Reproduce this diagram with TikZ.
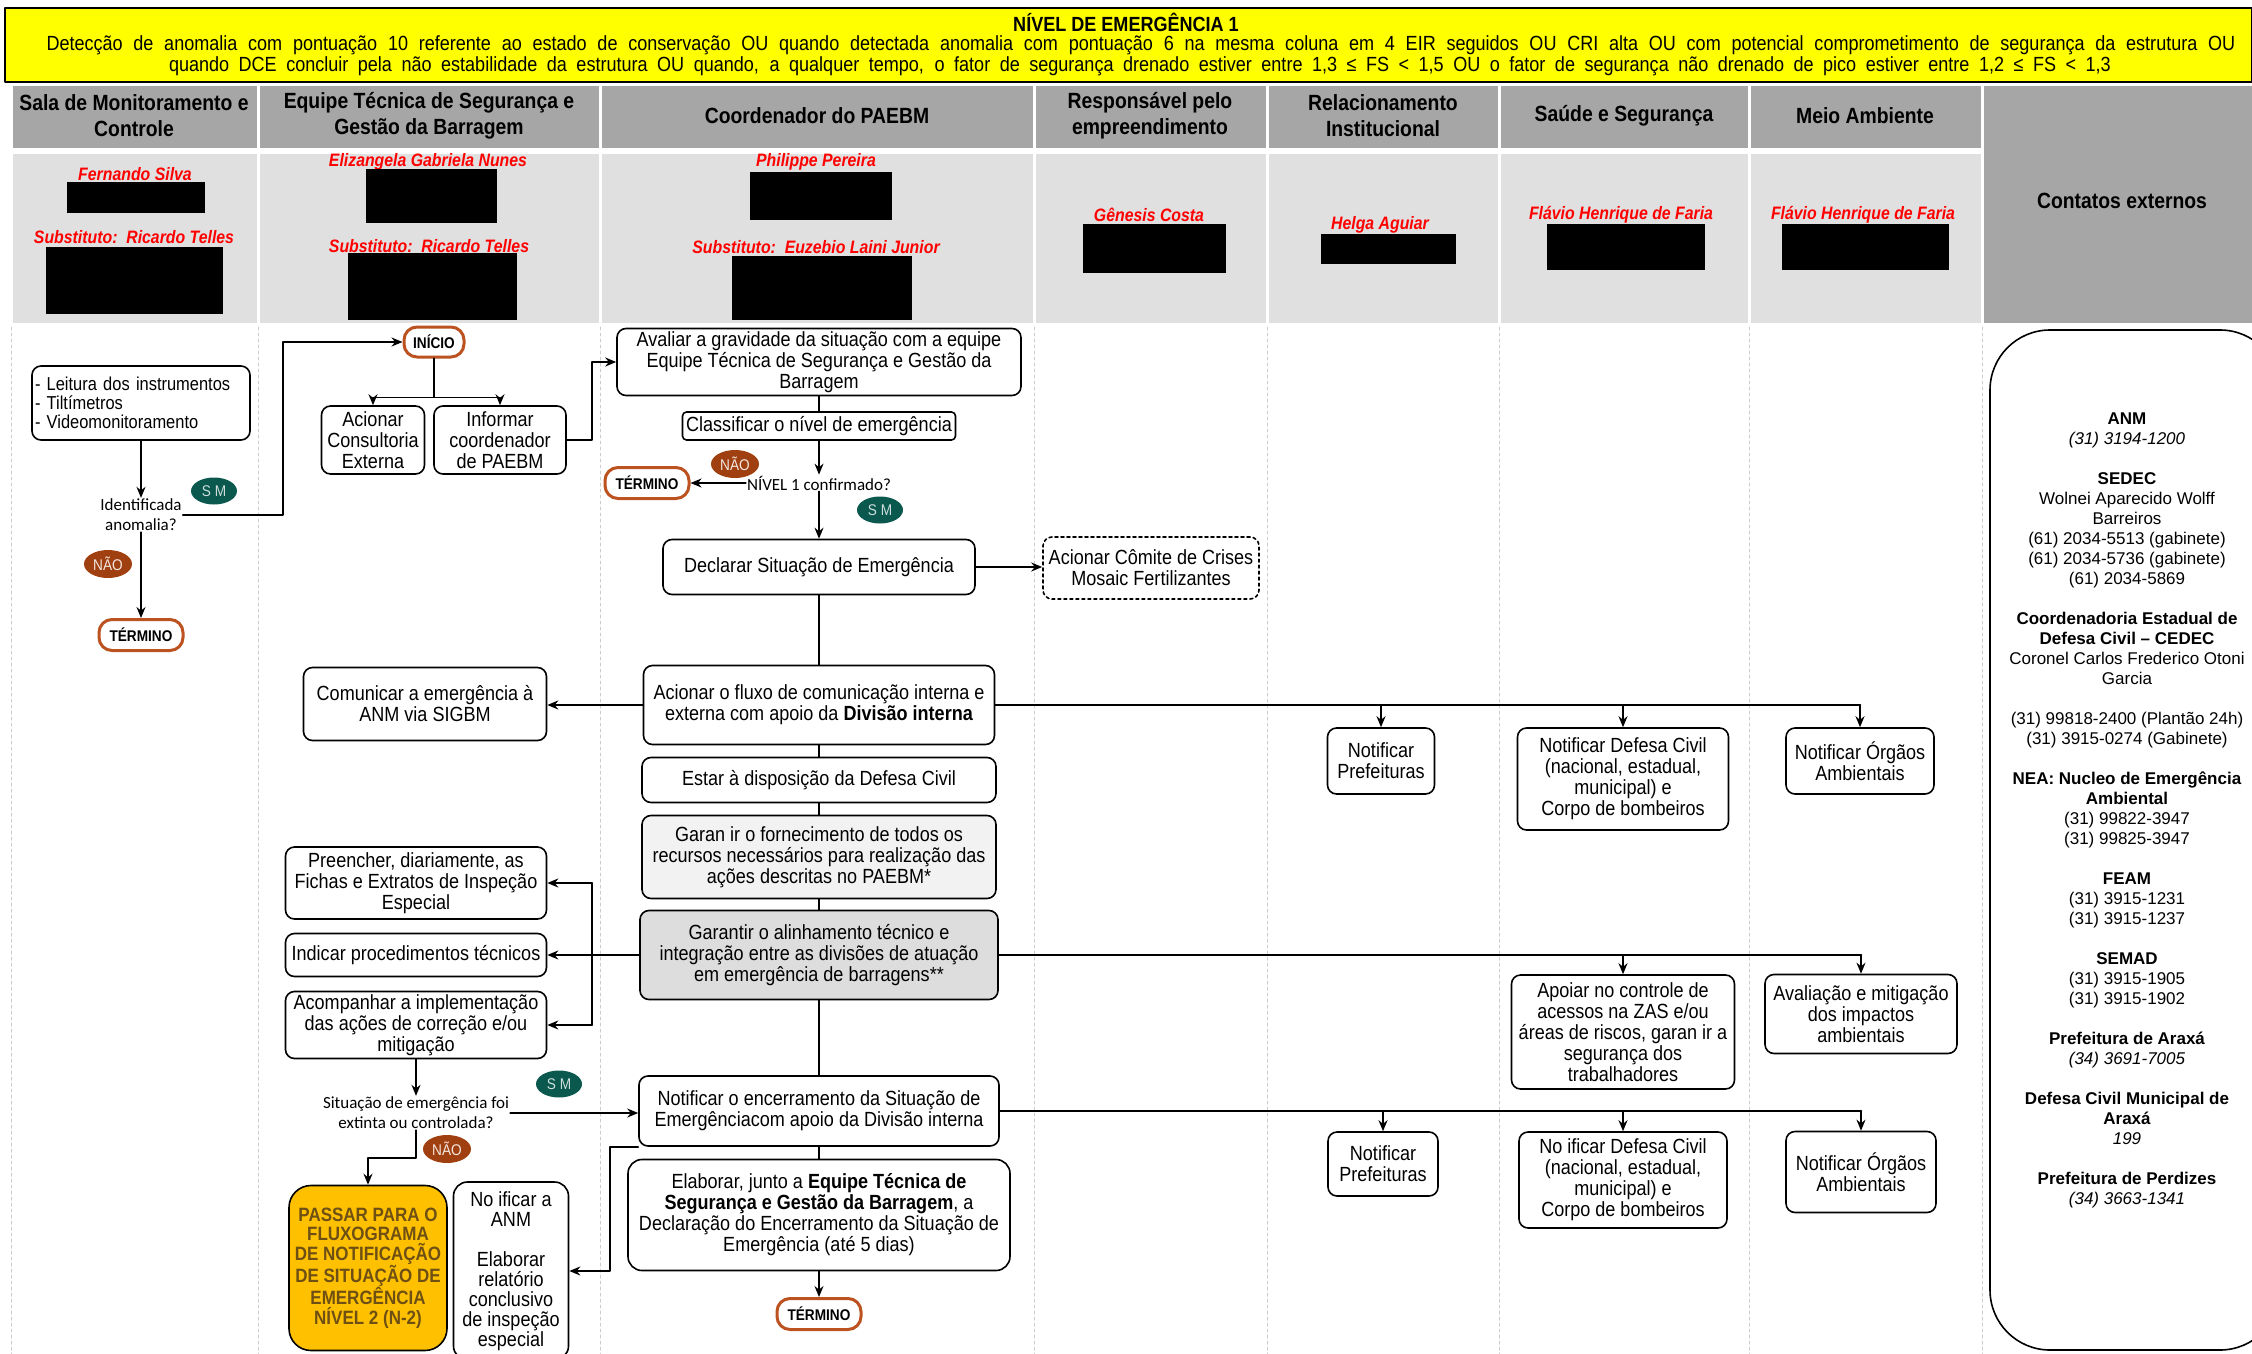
\documentclass[tikz,border=0pt]{standalone}
\usepackage{fontspec}
\setmainfont[FakeStretch=0.88]{Liberation Sans}
\newfontfamily\largo{Liberation Sans}
\newfontfamily\calib{Carlito}
\usetikzlibrary{arrows.meta,shapes.geometric}
\newcommand{\fsz}[2]{\fontsize{#1}{#2}\selectfont}
\definecolor{amarelo}{RGB}{255,255,0}
\definecolor{cinzacab}{RGB}{166,166,166}
\definecolor{cinzanome}{RGB}{224,224,224}
\definecolor{cinzaclaro}{RGB}{242,242,242}
\definecolor{cinzamedio}{RGB}{221,221,221}
\definecolor{marrom}{RGB}{160,64,16}
\definecolor{marromclaro}{RGB}{188,82,32}
\definecolor{verdesm}{RGB}{10,88,78}
\definecolor{laranja}{RGB}{255,192,0}
\definecolor{textolar}{RGB}{110,80,20}
\definecolor{tracejado}{RGB}{205,205,205}
\begin{document}
\begin{tikzpicture}[x=1pt,y=-1pt,>={Stealth[length=11pt,width=9pt]},line cap=round,line join=round,
  box/.style={draw,line width=1.6,rounded corners=9,fill=white,align=center,inner sep=2,font=\fsz{20.5}{21}},
  sz/.style 2 args={minimum width=#1,minimum height=#2},
  fim/.style={draw=marromclaro,line width=3,rounded corners=13,fill=white,minimum width=84,minimum height=31,inner sep=1,font=\fsz{15.5}{15.5}\bfseries},
  sim/.style={ellipse,fill=verdesm,text=white!80!verdesm,minimum width=46,minimum height=27,inner sep=0,font=\fsz{15.5}{15.5}},
  nao/.style={ellipse,fill=marrom,text=white!88!marrom,minimum width=48,minimum height=28,inner sep=0,font=\fsz{15.5}{15.5}},
  perg/.style={align=center,inner sep=1,font=\calib\fsz{17}{20}},
  linha/.style={line width=1.6},
  barra/.style={line width=2.6},
  nome/.style={text=red,inner sep=0,font=\fsz{18}{18}\bfseries\itshape},
  cab/.style={align=center,font=\fsz{22}{26}\bfseries}]
\useasboundingbox (0,0) rectangle (2252,1354);
% faixa amarela
\draw[fill=amarelo,line width=1.5] (5,8) rectangle (2252,82);
\node[font=\fsz{20.5}{20.5}\bfseries] (titulo) at (1126,22) {NÍVEL DE EMERGÊNCIA 1};
\node[font=\fsz{20.5}{20.5}] (crit1) at (1141,45) {\makebox[2189pt][s]{Detecção de anomalia com pontuação 10 referente ao estado de conservação OU quando detectada anomalia com pontuação 6 na mesma coluna em 4 EIR seguidos OU CRI alta OU com potencial comprometimento de segurança da estrutura OU}};
\node[font=\fsz{20.5}{20.5}] (crit2) at (1140,66) {\makebox[1942pt][s]{quando DCE concluir pela não estabilidade da estrutura OU quando, a qualquer tempo, o fator de segurança drenado estiver entre 1,3 ≤ FS < 1,5 OU o fator de segurança não drenado de pico estiver entre 1,2 ≤ FS < 1,3}};
% cabecalho das raias
\foreach \a/\b in {11/258,258/600,600/1034,1034/1267,1267/1499,1499/1749,1749/1982}{
  \fill[cinzacab] (\a+1.5,86) rectangle (\b-1.5,148);
  \fill[cinzanome] (\a+1.5,154) rectangle (\b-1.5,323);
}
\fill[cinzacab] (1983.5,86) rectangle (2252,323);
\foreach \x in {11,258,600,1034,1267,1499,1749,1982}
  \draw[tracejado,dashed,line width=1] (\x,327) -- (\x,1354);
\node[cab] (h1) at (134,116) {Sala de Monitoramento e\\Controle};
\node[cab] (h2) at (429,116) {Equipe Técnica de Segurança e\\Gestão da Barragem};
\node[cab] (h3) at (817,116) {Coordenador do PAEBM};
\node[cab] (h4) at (1150,116) {Responsável pelo\\empreendimento};
\node[cab] (h5) at (1383,116) {Relacionamento\\Institucional};
\node[cab] (h6) at (1624,116) {Saúde e Segurança};
\node[cab] (h7) at (1865,116) {Meio Ambiente};
\node[cab] (h8) at (2122,201) {Contatos externos};
% nomes
\node[nome] (n1) at (135,174) {Fernando Silva};
\node[nome] (n1s) at (134,237) {Substituto:\ \ Ricardo Telles};
\node[nome] (n2) at (428,162) {Elizangela Gabriela Nunes};
\node[nome] (n2s) at (429,246) {Substituto:\ \ Ricardo Telles};
\node[nome] (n3) at (816,162) {Philippe Pereira};
\node[nome] (n3s) at (816,247) {Substituto:\ \ Euzebio Laini Junior};
\node[nome] (n4) at (1149,215) {Gênesis Costa};
\node[nome] (n5) at (1380,225) {Helga Aguiar};
\node[nome] (n6) at (1621,215) {Flávio Henrique de Faria};
\node[nome] (n7) at (1863,215) {Flávio Henrique de Faria};
\foreach \a/\b/\c/\d in {67/182/205/213,46/247/223/314,366/169/497/223,348/253/517/320,750/172/892/220,732/256/912/320,1083/224/1226/273,1321/234/1456/264,1547/224/1705/270,1782/224/1949/270}
  \fill[black] (\a,\b) rectangle (\c,\d);
% raia 1
\node[box,sz={218}{74},align=left,text width=212,font=\fsz{18.7}{18.7}] (leit) at (141,403) {- Leitura dos instrumentos\\- Tiltímetros\\- Videomonitoramento};
\node[perg] (ident) at (141,515) {Identificada\\anomalia?};
\node[sim] (sm1) at (214,491) {S M};
\node[nao] (nao1) at (108,564) {NÃO};
\node[fim] (term1) at (141,635) {TÉRMINO};
% raia 2
\node[fim,sz={60}{30}] (inicio) at (434,342) {INÍCIO};
\node[box,sz={103}{68}] (acion) at (373,440) {Acionar\\Consultoria\\Externa};
\node[box,sz={132}{68}] (inform) at (500,440) {Informar\\coordenador\\de PAEBM};
\node[box,sz={243}{73}] (comun) at (425,704) {Comunicar a emergência à\\ANM via SIGBM};
\node[box,sz={261}{72}] (preen) at (416,883) {Preencher, diariamente, as\\Fichas e Extratos de Inspeção\\Especial};
\node[box,sz={261}{43}] (indic) at (416,955) {Indicar procedimentos técnicos};
\node[box,sz={261}{67}] (acomp) at (416,1025) {Acompanhar a implementação\\das ações de correção e/ou\\mitigação};
\node[perg] (sit) at (416,1113) {Situação de emergência foi\\extinta ou controlada?};
\node[sim] (sm3) at (559,1084) {S M};
\node[nao] (nao3) at (447,1149) {NÃO};
\node[box,fill=laranja,rounded corners=22,sz={158}{165},text=textolar,font=\fsz{19.3}{19.4}\bfseries] (passar) at (368,1268) {PASSAR PARA O\\FLUXOGRAMA\\DE NOTIFICAÇÃO\\DE SITUAÇÃO DE\\EMERGÊNCIA\\NÍVEL 2 (N-2)};
\node[box,rounded corners=14,sz={115}{178},font=\fsz{20.5}{20}] (notanm) at (511,1271) {No ificar a\\ANM\\[20pt]Elaborar\\relatório\\conclusivo\\de inspeção\\especial};
% raia 3
\node[box,sz={404}{67}] (aval) at (819,362) {Avaliar a gravidade da situação com a equipe\\Equipe Técnica de Segurança e Gestão da\\Barragem};
\node[box,rounded corners=4,sz={273}{28}] (classif) at (819,426) {Classificar o nível de emergência};
\node[perg] (niv) at (819,483) {NÍVEL 1 confirmado?};
\node[nao] (nao2) at (735,464) {NÃO};
\node[fim] (term2) at (647,483) {TÉRMINO};
\node[sim] (sm2) at (880,510) {S M};
\node[box,sz={312}{55}] (decl) at (819,567) {Declarar Situação de Emergência};
\node[box,sz={351}{79}] (fluxo) at (819,705) {Acionar o fluxo de comunicação interna e\\externa com apoio da \textbf{Divisão interna}};
\node[box,sz={354}{45}] (estar) at (819,780) {Estar à disposição da Defesa Civil};
\node[box,fill=cinzaclaro,sz={354}{83}] (forn) at (819,857) {Garan ir o fornecimento de todos os\\recursos necessários para realização das\\ações descritas no PAEBM*};
\node[box,fill=cinzamedio,sz={358}{89}] (alin) at (819,955) {Garantir o alinhamento técnico e\\integração entre as divisões de atuação\\em emergência de barragens**};
\node[box,sz={360}{70}] (encer) at (819,1111) {Notificar o encerramento da Situação de\\Emergênciacom apoio da Divisão interna};
\node[box,rounded corners=14,sz={382}{111}] (elab) at (819,1215) {Elaborar, junto a \textbf{Equipe Técnica de}\\\textbf{Segurança e Gestão da Barragem}, a\\Declaração do Encerramento da Situação de\\Emergência (até 5 dias)};
\node[fim] (term3) at (819,1314) {TÉRMINO};
% raias 4 a 7
\node[box,dashed,sz={216}{62}] (comite) at (1151,568) {Acionar Cômite de Crises\\Mosaic Fertilizantes};
\node[box,sz={107}{66}] (pref1) at (1381,761) {Notificar\\Prefeituras};
\node[box,sz={211}{102}] (defc1) at (1623,779) {Notificar Defesa Civil\\(nacional, estadual,\\municipal) e\\Corpo de bombeiros};
\node[box,sz={148}{66}] (orga1) at (1860,761) {Notificar Órgãos\\Ambientais};
\node[box,sz={223}{114}] (apoi) at (1623,1032) {Apoiar no controle de\\acessos na ZAS e/ou\\áreas de riscos, garan ir a\\segurança dos\\trabalhadores};
\node[box,sz={192}{79}] (avali) at (1861,1014) {Avaliação e mitigação\\dos impactos\\ambientais};
\node[box,sz={110}{64}] (pref2) at (1383,1164) {Notificar\\Prefeituras};
\node[box,sz={208}{96}] (defc2) at (1623,1180) {No ificar Defesa Civil\\(nacional, estadual,\\municipal) e\\Corpo de bombeiros};
\node[box,sz={150}{81}] (orga2) at (1861,1172) {Notificar Órgãos\\Ambientais};
% contatos externos
\draw[line width=1.6,rounded corners=60] (1990,330) rectangle (2280,1350);
\node[align=center,font=\largo\fsz{17}{20}] (contatos) at (2127,810) {\textbf{ANM}\\\textit{(31) 3194-1200}\\[20pt]
\textbf{SEDEC}\\Wolnei Aparecido Wolff\\Barreiros\\(61) 2034-5513 (gabinete)\\(61) 2034-5736 (gabinete)\\(61) 2034-5869\\[20pt]
\textbf{Coordenadoria Estadual de}\\\textbf{Defesa Civil – CEDEC}\\Coronel Carlos Frederico Otoni\\Garcia\\[20pt]
(31) 99818-2400 (Plantão 24h)\\(31) 3915-0274 (Gabinete)\\[20pt]
\textbf{NEA: Nucleo de Emergência}\\\textbf{Ambiental}\\(31) 99822-3947\\(31) 99825-3947\\[20pt]
\textbf{FEAM}\\(31) 3915-1231\\(31) 3915-1237\\[20pt]
\textbf{SEMAD}\\(31) 3915-1905\\(31) 3915-1902\\[20pt]
\textbf{Prefeitura de Araxá}\\\textit{(34) 3691-7005}\\[20pt]
\textbf{Defesa Civil Municipal de}\\\textbf{Araxá}\\\textit{199}\\[20pt]
\textbf{Prefeitura de Perdizes}\\\textit{(34) 3663-1341}};
% conectores
\coordinate (k1) at (283,0);
\coordinate (k2) at (592,0);
\coordinate (k3) at (610,0);
\draw[linha,->] (leit.south) -- (ident.north);
\draw[linha,->] (ident.south) -- (term1.north);
\draw[linha,->] (ident.east) -- (ident.east -| k1) |- (inicio.west);
\draw[linha,->] (inicio.south) -- ++(0,39) -| (acion.north);
\draw[linha,->] (inicio.south) -- ++(0,39) -| (inform.north);
\draw[linha,->] (inform.east) -- (inform.east -| k2) |- (aval.west);
\draw[linha] (aval.south) -- (classif.north);
\draw[linha,->] (classif.south) -- (niv.north);
\draw[linha,->] (niv.west) -- (term2.east);
\draw[linha,->] (niv.south) -- (decl.north);
\draw[linha,->] (decl.east) -- (decl.east -| comite.west);
\draw[linha] (decl.south) -- (fluxo.north);
\draw[linha,->] (fluxo.west) -- (fluxo.west -| comun.east);
\draw[barra] (fluxo.east) -- (fluxo.east -| orga1.north);
\foreach \n in {pref1,defc1,orga1}
  \draw[linha,->] (fluxo.east -| \n.north) -- (\n.north);
\draw[linha] (fluxo.south) -- (estar.north) (estar.south) -- (forn.north) (forn.south) -- (alin.north)%
  (alin.south) -- (encer.north) (encer.south) -- (elab.north);
\draw[barra] (alin.west) -- (alin.west -| k2);
\draw[linha] (k2 |- preen.east) -- (k2 |- acomp.east);
\foreach \n in {preen,indic,acomp}
  \draw[linha,->] (k2 |- \n.east) -- (\n.east);
\draw[barra] (alin.east) -- (alin.east -| avali.north);
\foreach \n in {apoi,avali}
  \draw[linha,->] (alin.east -| \n.north) -- (\n.north);
\draw[linha,->] (acomp.south) -- (sit.north);
\draw[linha,->] (sit.east) -- (sit.east -| encer.west);
\draw[linha,->] (sit.south) -- ++(0,28) -| (passar.north);
\draw[linha,->] (encer.south west) -| (k3 |- notanm.east) -- (notanm.east);
\draw[linha,->] (elab.south) -- (term3.north);
\draw[barra] (encer.east) -- (encer.east -| orga2.north);
\foreach \n in {pref2,defc2,orga2}
  \draw[linha,->] (encer.east -| \n.north) -- (\n.north);
\end{tikzpicture}
\end{document}
